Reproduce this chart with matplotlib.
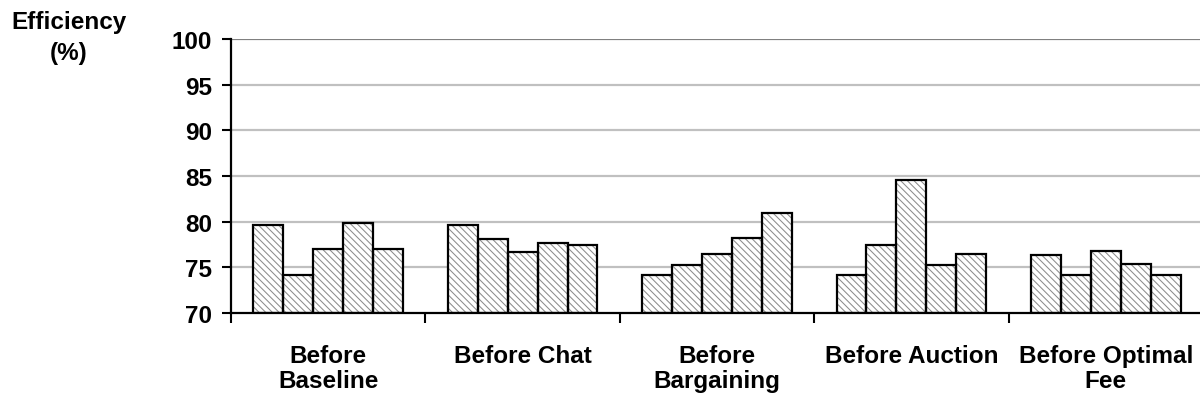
import matplotlib
matplotlib.use("Agg")
import matplotlib.pyplot as plt
import numpy as np

plt.rcParams['font.family'] = ['Liberation Sans', 'DejaVu Sans']
plt.rcParams['font.weight'] = 'bold'
plt.rcParams['hatch.linewidth'] = 0.75

categories = ["Before\nBaseline", "Before Chat", "Before\nBargaining",
              "Before Auction", "Before Optimal\nFee"]
# five sessions per category
values = [
    [79.6, 74.2, 77.0, 79.8, 77.0],
    [79.6, 78.1, 76.7, 77.7, 77.4],
    [74.2, 75.3, 76.5, 78.2, 80.9],
    [74.2, 77.4, 84.6, 75.3, 76.5],
    [76.3, 74.2, 76.8, 75.4, 74.2],
]
yticks = [70, 75, 80, 85, 90, 95, 100]

fs = 17.5
fig = plt.figure(figsize=(12, 4.02), dpi=100)
ax = fig.add_axes([231 / 1200, 88 / 402, 972 / 1200, 274 / 402])

n = len(values[0])
w = 0.154
for i, grp in enumerate(values):
    x = i + 0.5 + (np.arange(n) - (n - 1) / 2) * w
    base = [70] * n
    h = [v - 70 for v in grp]
    ax.bar(x, h, w, bottom=base, color='white', edgecolor='#8c8c8c',
           hatch='\\' * 5, linewidth=0, zorder=2)
    ax.bar(x, h, w, bottom=base, fill=False, edgecolor='black',
           linewidth=1.6, zorder=3)

ax.set_ylim(70, 100)
ax.set_xlim(0, len(categories))
ax.set_yticks(yticks)
ax.set_yticklabels([str(t) for t in yticks], fontsize=fs, fontweight='bold')
ax.set_xticks(np.arange(len(categories) + 1))
ax.set_xticklabels([])
ax.set_xticks(np.arange(len(categories)) + 0.5, minor=True)
ax.set_xticklabels(categories, minor=True, fontsize=fs, fontweight='bold',
                   linespacing=1.15)
ax.tick_params(axis='x', which='minor', length=0, pad=22)
ax.tick_params(axis='x', which='major', direction='out', length=7, width=1.5)
ax.tick_params(axis='y', direction='out', length=6.5, width=1.5, pad=7)

for t in yticks[1:-1]:
    ax.axhline(t, color='#c0c0c0', linewidth=1.6, zorder=1)
ax.axhline(100, color='#808080', linewidth=1.6, zorder=1)

for s in ['top', 'right']:
    ax.spines[s].set_visible(False)
for s in ['left', 'bottom']:
    ax.spines[s].set_linewidth(1.6)
    ax.spines[s].set_zorder(4)

fig.text(69 / 1200, 1 - 22 / 402, "Efficiency", ha='center', va='center',
         fontsize=fs, fontweight='bold')
fig.text(69 / 1200, 1 - 54 / 402, "(%)", ha='center', va='center',
         fontsize=fs, fontweight='bold')

fig.savefig("out.png", dpi=100)
